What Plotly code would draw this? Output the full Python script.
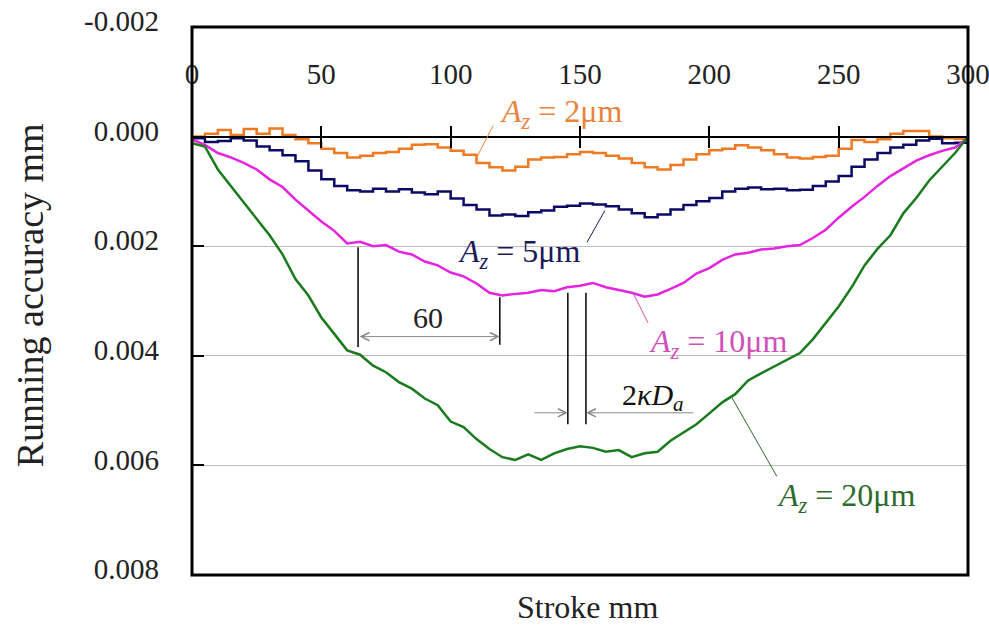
import plotly.graph_objects as go

# Stroke positions (mm) at which the running accuracy was sampled
stroke = list(range(0, 301, 5))

# Running accuracy (mm) for each amplitude A_z
acc_2um = [0.00000, -0.00005, -0.00012, -0.00003, -0.00014, -0.00005, -0.00015, -0.00003,
           0.00005, 0.00012, 0.00022, 0.00030, 0.00038, 0.00035, 0.00030, 0.00028,
           0.00022, 0.00015, 0.00014, 0.00020, 0.00026, 0.00033, 0.00048, 0.00056,
           0.00062, 0.00055, 0.00042, 0.00038, 0.00037, 0.00032, 0.00028, 0.00030,
           0.00035, 0.00040, 0.00048, 0.00056, 0.00060, 0.00052, 0.00042, 0.00032,
           0.00025, 0.00022, 0.00016, 0.00020, 0.00025, 0.00032, 0.00038, 0.00040,
           0.00037, 0.00035, 0.00022, 0.00006, 0.00010, 0.00005, -0.00005, -0.00010,
           -0.00010, 0.00000, 0.00003, 0.00004, 0.00000]

acc_5um = [0.00003, 0.00010, 0.00008, 0.00003, 0.00007, 0.00018, 0.00025, 0.00034,
           0.00045, 0.00062, 0.00078, 0.00090, 0.00098, 0.00100, 0.00095, 0.00100,
           0.00096, 0.00102, 0.00105, 0.00100, 0.00113, 0.00125, 0.00133, 0.00144,
           0.00142, 0.00145, 0.00138, 0.00135, 0.00128, 0.00126, 0.00122, 0.00124,
           0.00127, 0.00133, 0.00140, 0.00147, 0.00142, 0.00133, 0.00125, 0.00118,
           0.00112, 0.00100, 0.00095, 0.00093, 0.00096, 0.00095, 0.00098, 0.00097,
           0.00090, 0.00082, 0.00072, 0.00055, 0.00042, 0.00030, 0.00020, 0.00015,
           0.00007, 0.00004, 0.00012, 0.00011, 0.00008]

acc_10um = [0.00005, 0.00015, 0.00030, 0.00038, 0.00048, 0.00060, 0.00078, 0.00092,
            0.00115, 0.00135, 0.00155, 0.00172, 0.00195, 0.00192, 0.00200, 0.00198,
            0.00210, 0.00215, 0.00228, 0.00235, 0.00248, 0.00255, 0.00268, 0.00285,
            0.00290, 0.00287, 0.00285, 0.00280, 0.00282, 0.00275, 0.00272, 0.00267,
            0.00275, 0.00280, 0.00285, 0.00292, 0.00288, 0.00278, 0.00267, 0.00250,
            0.00240, 0.00225, 0.00215, 0.00212, 0.00206, 0.00204, 0.00200, 0.00198,
            0.00185, 0.00170, 0.00148, 0.00128, 0.00110, 0.00090, 0.00072, 0.00058,
            0.00044, 0.00034, 0.00026, 0.00020, 0.00002]

acc_20um = [0.00012, 0.00018, 0.00060, 0.00090, 0.00118, 0.00150, 0.00180, 0.00215,
            0.00260, 0.00290, 0.00330, 0.00360, 0.00390, 0.00398, 0.00418, 0.00430,
            0.00448, 0.00460, 0.00478, 0.00490, 0.00520, 0.00530, 0.00552, 0.00570,
            0.00585, 0.00590, 0.00580, 0.00590, 0.00578, 0.00570, 0.00565, 0.00568,
            0.00575, 0.00572, 0.00585, 0.00578, 0.00575, 0.00555, 0.00540, 0.00525,
            0.00505, 0.00485, 0.00470, 0.00445, 0.00432, 0.00420, 0.00408, 0.00395,
            0.00370, 0.00340, 0.00310, 0.00275, 0.00235, 0.00205, 0.00180, 0.00140,
            0.00112, 0.00080, 0.00055, 0.00030, 0.00000]

# Axis ticks
x_ticks = [0, 50, 100, 150, 200, 250, 300]
y_ticks = [-0.002, 0.000, 0.002, 0.004, 0.006, 0.008]
y_tick_text = ["-0.002", "0.000", "0.002", "0.004", "0.006", "0.008"]

SERIF = "Liberation Serif, Times New Roman, serif"
TXT = "#222222"

# (values, colour, line shape)
series = [
    (acc_2um, "#F07A22", "hv"),
    (acc_5um, "#0A0A66", "hv"),
    (acc_10um, "#E424E0", "linear"),
    (acc_20um, "#1A7A1E", "linear"),
]

fig = go.Figure()
for values, color, shape in series:
    fig.add_trace(go.Scatter(x=stroke, y=values, mode="lines",
                             line=dict(color=color, width=2.5, shape=shape),
                             showlegend=False, hoverinfo="skip"))

# helper trace so the second (downward-tick) x axis is rendered
fig.add_trace(go.Scatter(x=[None], y=[None], xaxis="x2", yaxis="y",
                         showlegend=False, hoverinfo="skip"))

fig.update_layout(
    width=989, height=625,
    margin=dict(l=192, r=21, t=27, b=50, autoexpand=False),
    paper_bgcolor="white", plot_bgcolor="white",
    font=dict(family=SERIF, color=TXT),
    xaxis=dict(range=[0, 300], tickvals=x_ticks, side="top", anchor="free", position=0.8,
               showline=True, linecolor="black", linewidth=1.5, automargin=False,
               ticks="outside", ticklen=10, tickwidth=1.5, tickcolor="black",
               ticklabelstandoff=30, ticklabeloverflow="allow",
               showgrid=False, zeroline=False,
               tickfont=dict(family=SERIF, size=29, color=TXT)),
    xaxis2=dict(range=[0, 300], tickvals=x_ticks, side="top", anchor="free", position=0.8,
                overlaying="x", showline=False, ticks="inside", ticklen=10, tickwidth=1.5,
                tickcolor="black", showticklabels=False, showgrid=False, zeroline=False,
                automargin=False),
    yaxis=dict(range=[0.008, -0.002], tickvals=y_ticks, ticktext=y_tick_text,
               ticks="inside", ticklen=12, tickwidth=1.5, tickcolor="black",
               showgrid=True, gridcolor="#bdbdbd", gridwidth=1, zeroline=False,
               ticklabelstandoff=32, ticklabelshift=6, automargin=False,
               ticklabeloverflow="allow",
               tickfont=dict(family=SERIF, size=29, color=TXT)),
)

# frame around the plotting area
fig.add_shape(type="rect", xref="paper", yref="paper", x0=0, x1=1, y0=0, y1=1,
              line=dict(color="black", width=3), layer="above")

# axis titles
fig.add_annotation(text="Running accuracy mm", xref="paper", yref="paper",
                   x=-0.209, y=0.51, xanchor="center", yanchor="middle",
                   textangle=-90, showarrow=False,
                   font=dict(family=SERIF, size=38, color=TXT))
fig.add_annotation(text="Stroke mm", xref="paper", yref="paper",
                   x=0.51, y=-0.058, xanchor="center", yanchor="middle", showarrow=False,
                   font=dict(family=SERIF, size=32, color=TXT))

# curve labels with leader lines
labels = [
    ("<i>A</i><sub><i>z</i></sub> = 2μm", 142.6, -0.00042, "#E8823C", (116.4, -0.0002, 109.4, 0.00044)),
    ("<i>A</i><sub><i>z</i></sub> = 5μm", 126.4, 0.00213, "#1A1A5A", (152.7, 0.00193, 159.6, 0.00135)),
    ("<i>A</i><sub><i>z</i></sub> = 10μm", 203.3, 0.00378, "#D050B8", (176.3, 0.0034, 170.5, 0.00285)),
    ("<i>A</i><sub><i>z</i></sub> = 20μm", 252.8, 0.00658, "#2D6A2D", (226.1, 0.0062, 208.7, 0.00476)),
]
for text, lx, ly, color, (x0, y0, x1, y1) in labels:
    fig.add_annotation(text=text, x=lx, y=ly, showarrow=False,
                       font=dict(family=SERIF, size=32, color=color))
    fig.add_shape(type="line", x0=x0, y0=y0, x1=x1, y1=y1,
                  line=dict(color=color, width=1))

# "60" pitch dimension
for xv, ya, yb in [(64.2, 0.00202, 0.00384), (119.0, 0.00293, 0.00380)]:
    fig.add_shape(type="line", x0=xv, x1=xv, y0=ya, y1=yb, line=dict(color="black", width=1.5))
fig.add_annotation(x=119.0, y=0.00365, ax=64.2, ay=0.00365, axref="x", ayref="y",
                   text="", showarrow=True, arrowside="end+start", arrowhead=5,
                   arrowsize=1.6, arrowwidth=1, arrowcolor="#888888")
fig.add_annotation(text="60", x=91.2, y=0.00331, showarrow=False,
                   font=dict(family=SERIF, size=30, color=TXT))

# 2κDa dimension
for xv in (145.3, 152.3):
    fig.add_shape(type="line", x0=xv, x1=xv, y0=0.00285, y1=0.00525,
                  line=dict(color="black", width=1.5))
fig.add_annotation(x=145.3, y=0.00504, ax=131.8, ay=0.00504, axref="x", ayref="y",
                   text="", showarrow=True, arrowhead=5, arrowsize=1.6,
                   arrowwidth=1, arrowcolor="#888888")
fig.add_annotation(x=152.3, y=0.00504, ax=194.4, ay=0.00504, axref="x", ayref="y",
                   text="", showarrow=True, arrowhead=5, arrowsize=1.6,
                   arrowwidth=1, arrowcolor="#888888")
fig.add_annotation(text="2<i>κD</i><sub><i>a</i></sub>", x=178.2, y=0.00476, showarrow=False,
                   font=dict(family=SERIF, size=30, color="#111111"))

fig.write_html("out.html")
